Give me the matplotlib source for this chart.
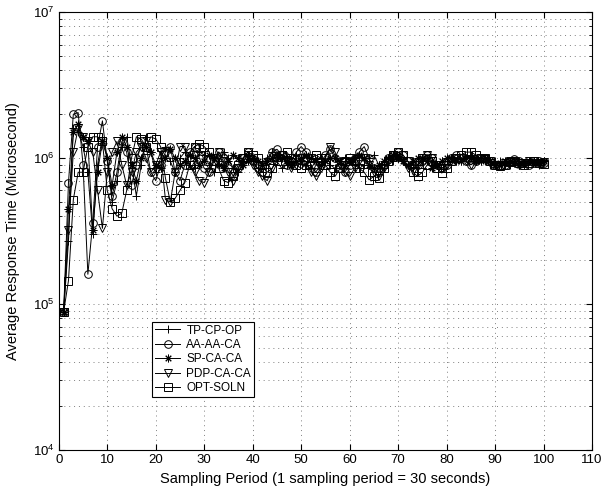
import matplotlib as mpl
mpl.use('Agg')
import matplotlib.pyplot as plt
import numpy as np

mpl.rc('font', family=['Liberation Sans', 'DejaVu Sans'], size=9.5)

# sampling periods
periods = list(range(1, 101))

# response times, in units of 1e5 microseconds
tp_cp_op = [0.88, 2.7, 16, 15, 12, 8, 3.0, 9, 14, 10,
            5, 7, 12, 14, 9, 5.5, 9, 14, 11, 8,
            10, 12, 9.5, 8, 10, 11, 9, 8.5, 11, 10.5,
            9, 8, 9.5, 11, 10, 8.5, 8, 9.5, 10.5, 9.5,
            8.5, 9, 10, 11, 9.5, 8.5, 9, 10, 10.5, 9.5,
            9, 8.5, 9.5, 10, 9.5, 9, 8.5, 9.5, 10, 9.5,
            9, 8.5, 9, 10, 10.5, 9, 8.5, 9, 9.5, 10,
            9.5, 9, 8.5, 9, 9.5, 10, 9.5, 9, 9.5, 10,
            10, 9.5, 9.5, 10, 10.5, 10, 9.5, 9.5, 9, 9.5,
            9.5, 9, 9, 9.5, 9.5, 9, 9.5, 9.5, 9, 9.5]

aa_aa_ca = [0.88, 6.8, 20, 20.5, 9, 1.6, 3.6, 12, 18, 9.5,
            5.5, 8, 13, 11, 6.5, 9, 13, 12, 8, 7,
            9, 11, 12, 8, 7, 9, 11, 12, 10, 8.5,
            8, 9.5, 11, 10, 8.5, 7.5, 8.5, 10, 11, 9.5,
            8.5, 8, 9.5, 11, 11.5, 10.5, 9, 9.5, 11, 12,
            11, 9, 8, 9, 10.5, 11.5, 10, 8.5, 8, 9,
            10, 11, 12, 10, 8.5, 8, 9, 10, 10.5, 11,
            10.5, 9.5, 9, 9, 9.5, 10.5, 10, 9, 8.5, 9,
            10, 10.5, 10, 9.5, 9, 9.5, 10, 10, 9.5, 9,
            8.8, 9, 9.5, 9.8, 9.5, 9.2, 9, 9.3, 9.6, 9.3]

sp_ca_ca = [0.88, 4.5, 15, 17, 14, 13, 3.2, 8, 13, 10,
            6.5, 11, 14, 12, 9, 7, 10, 12, 11, 9,
            8.5, 10, 11.5, 10, 9, 9.5, 10.5, 10, 9, 9.5,
            10.5, 10, 9, 8.5, 9.5, 10.5, 10, 9, 9.5, 10,
            9.5, 9, 9.5, 10, 10.5, 10, 9.5, 9, 9.5, 10,
            10.5, 10, 9.5, 9, 9.5, 10, 10, 9.5, 9, 9.5,
            10, 10.5, 10, 9, 8.5, 9, 9.5, 10, 10.5, 10,
            9.5, 9, 9.5, 10, 10, 9.5, 8.5, 9, 9.5, 10,
            10, 9.5, 9.5, 10, 10, 9.5, 9.5, 10, 9.5, 9,
            9.2, 9.5, 9.5, 9.2, 9, 9.3, 9.6, 9.4, 9.2, 9.5]

pdp_ca_ca = [0.88, 3.2, 11, 16, 14, 13, 11, 6, 3.3, 8,
             11, 13, 9, 6.5, 8, 11, 12, 10, 8, 9,
             11, 5.2, 5, 8, 12, 12, 9, 8, 7, 6.8,
             8, 10, 11, 9.5, 8, 7, 8.5, 10, 10.5, 9,
             8, 7.5, 7, 8.5, 10, 10.5, 9.5, 8.5, 9, 10,
             9.5, 8, 7.5, 8.5, 10, 12, 11, 9, 8, 7.5,
             8.5, 9.5, 10, 9, 8, 7.5, 8.5, 9.5, 10.5, 10,
             9.5, 8.5, 8.2, 9, 10, 10.5, 10, 9, 8.5, 9,
             9.5, 10, 10, 9.5, 9, 9.5, 10, 9.8, 9.2, 9,
             8.8, 9.2, 9.6, 9.4, 9, 9.2, 9.6, 9.5, 9.1, 9.4]

opt_soln = [0.88, 1.45, 5.2, 8, 8, 12, 14, 14, 13, 6,
            4.5, 4, 4.2, 6, 10, 14, 13.5, 12, 14, 13.5,
            12, 7.3, 5, 5.3, 6, 6.8, 9, 12, 12.5, 12,
            11, 9.5, 8.5, 7, 6.8, 7.5, 9, 10, 11, 10.5,
            10, 9, 8, 8.5, 9.5, 10.5, 11, 10, 9, 8.5,
            9, 10, 10.5, 10, 9, 8, 7.5, 8.5, 9.5, 10,
            9.5, 8.5, 8, 7.1, 7.5, 7.3, 8.5, 9.5, 10.5, 11,
            10.5, 9.5, 8, 7.5, 8, 9, 9.5, 8.5, 7.9, 8.5,
            9.5, 10, 10.5, 11, 11, 10.5, 10, 10, 9.5, 9,
            8.8, 9, 9.4, 9.6, 9.3, 9, 9.2, 9.5, 9.3, 9.1]

series = [('TP-CP-OP', tp_cp_op, '+'),
          ('AA-AA-CA', aa_aa_ca, 'o'),
          ('SP-CA-CA', sp_ca_ca, (8, 2, 0)),
          ('PDP-CA-CA', pdp_ca_ca, 'v'),
          ('OPT-SOLN', opt_soln, 's')]

f = plt.figure(figsize=(6.06, 4.87), dpi=100)
ax = f.add_axes([0.097, 0.076, 0.88, 0.899])

for name, vals, mk in series:
    ax.plot(periods, np.array(vals) * 1e5, color='k', lw=0.7, marker=mk,
            markersize=5.5, markerfacecolor='none', markeredgecolor='k',
            markeredgewidth=0.7, label=name)

ax.set_yscale('log')
ax.set_xlim(0, 110)
ax.set_ylim(1e4, 1e7)
ax.set_xticks(range(0, 111, 10))
grid_style = dict(ls=(0, (1, 4)), color='0.5', lw=0.7)
ax.grid(True, which='major', **grid_style)
ax.grid(True, which='minor', axis='y', **grid_style)
ax.tick_params(which='both', direction='in', top=True, right=True)
ax.tick_params(which='major', length=4, pad=3)
ax.tick_params(which='minor', length=2)
for sp in ax.spines.values():
    sp.set_linewidth(0.8)

ax.set_xlabel('Sampling Period (1 sampling period = 30 seconds)', fontsize=10.5)
ax.xaxis.set_label_coords(0.5, -0.05)
ax.set_ylabel('Average Response Time (Microsecond)', fontsize=10.5)
ax.yaxis.set_label_coords(-0.072, 0.5)

leg = ax.legend(loc='lower left', bbox_to_anchor=(0.174, 0.121), fontsize=8.5,
                fancybox=False, edgecolor='k', framealpha=1, borderpad=0.25,
                labelspacing=0.2, handlelength=2.2, handletextpad=0.5,
                borderaxespad=0)
leg.get_frame().set_linewidth(0.8)

plt.savefig('out.png', dpi=100)
plt.close(f)
